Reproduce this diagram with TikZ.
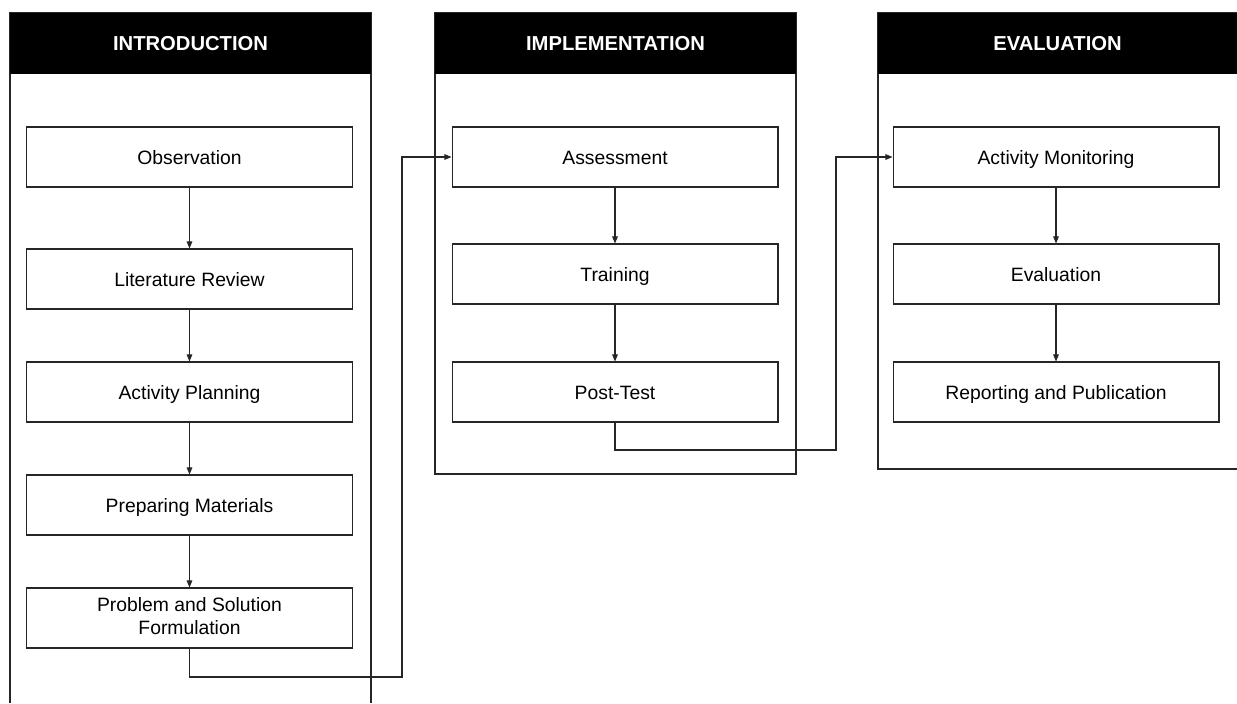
\documentclass[tikz,border=0pt]{standalone}
\usepackage{fontspec}
\setmainfont{Liberation Sans}
\usetikzlibrary{arrows.meta,positioning}

\tikzset{
	line/.style={draw=black!85, line width=0.6pt},
	arr/.style={line, -{Triangle[length=4pt,width=3.2pt]}},
	stepbox/.style={line, rectangle, minimum width=6.52cm, minimum height=1.2cm,
		align=center, inner sep=0pt, font=\fontsize{11}{13.5}\selectfont,
		execute at begin node={\rule[-0.22em]{0pt}{1.2em}}},
	headbox/.style={rectangle, fill=black, text=white, minimum height=1.22cm,
		inner sep=0pt, font=\fontsize{11.5}{14}\selectfont\bfseries}
}

\begin{document}
\begin{tikzpicture}[x=0.02cm, y=-0.02cm]
			%%%%% START %%%%%
			\useasboundingbox (0, 0) rectangle (1237, 703);
			
			% column frames
			\draw[line] (10, 703) -- (10, 13) -- (371, 13) -- (371, 703);
			\draw[line] (435, 13) rectangle (796, 474);
			\draw[line] (1237, 13) -- (878, 13) -- (878, 469) -- (1237, 469);
			
			% headers
			\node[headbox, minimum width=7.22cm] (hIntro) at (190.5, 43.5) {INTRODUCTION};
			\node[headbox, minimum width=7.22cm] (hImpl) at (615.5, 43.5) {IMPLEMENTATION};
			\node[headbox, minimum width=7.18cm] (hEval) at (1057.5, 43.5) {EVALUATION};
			
			% introduction
			\node[stepbox] (obs) at (189.5, 157) {Observation};
			\node[stepbox] (lit) at (189.5, 279) {Literature Review};
			\node[stepbox] (plan) at (189.5, 392) {Activity Planning};
			\node[stepbox] (prep) at (189.5, 505) {Preparing Materials};
			\node[stepbox] (prob) at (189.5, 618) {Problem and Solution\\Formulation};
			
			% implementation
			\node[stepbox] (assess) at (615, 157) {Assessment};
			\node[stepbox] (train) at (615, 274) {Training};
			\node[stepbox] (post) at (615, 392) {Post-Test};
			
			% evaluation
			\node[stepbox] (monit) at (1056, 157) {Activity Monitoring};
			\node[stepbox] (evalu) at (1056, 274) {Evaluation};
			\node[stepbox] (report) at (1056, 392) {Reporting and Publication};
			
			% arrows
			\draw[arr] (obs) -- (lit);
			\draw[arr] (lit) -- (plan);
			\draw[arr] (plan) -- (prep);
			\draw[arr] (prep) -- (prob);
			
			\draw[arr] (assess) -- (train);
			\draw[arr] (train) -- (post);
			
			\draw[arr] (monit) -- (evalu);
			\draw[arr] (evalu) -- (report);
			
			\coordinate (bendA) at (402, 677);
			\coordinate (bendB) at (836, 450);
			\draw[arr] (prob.south) |- (bendA) |- (assess.west);
			\draw[arr] (post.south) |- (bendB) |- (monit.west);
			
			%%%%% END %%%%%
		\end{tikzpicture}
\end{document}
